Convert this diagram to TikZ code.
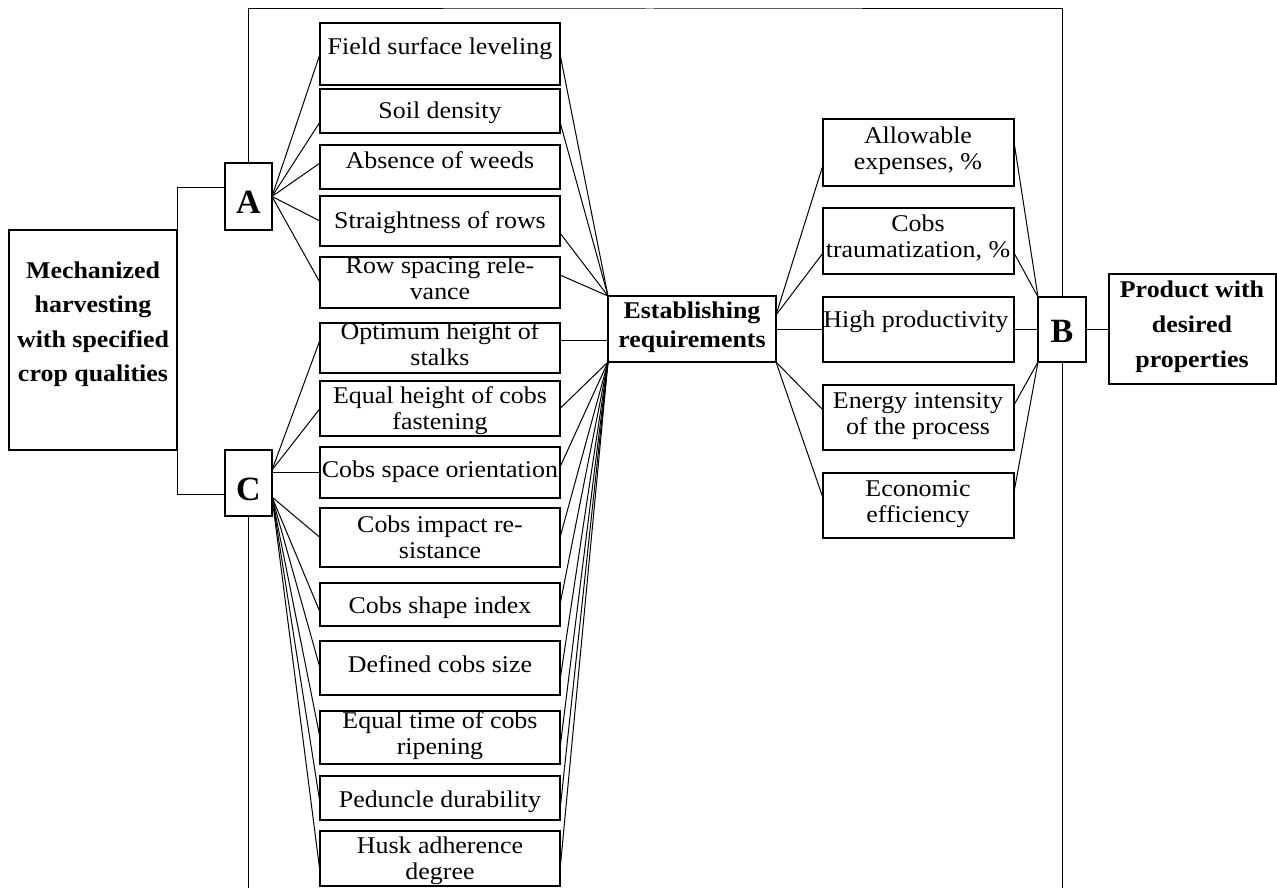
\documentclass[tikz,border=0pt]{standalone}
\usepackage{fontspec}
\setmainfont{Liberation Serif}[FakeStretch=1.08]
\newfontfamily\letterfont{Liberation Serif}
\begin{document}
\begin{tikzpicture}[x=1pt,y=-1pt,
  box/.style={draw, line width=1.1pt, inner sep=0pt, outer sep=0pt, anchor=north west},
  lbox/.style={box, minimum width=240pt},
  rbox/.style={box, minimum width=191pt},
  lbl/.style={inner sep=0pt, anchor=north, align=center, font=\fontsize{24}{26}\selectfont},
  blbl/.style={inner sep=0pt, anchor=north, align=center},
  letter/.style={inner sep=0pt, anchor=base, font=\letterfont\fontsize{34}{40}\selectfont\bfseries},
  ln/.style={line width=1pt}
]
\useasboundingbox (0,0) rectangle (1277,888);

% main boxes
\node[box, minimum width=168pt, minimum height=220pt] (mech) at (9,230) {};
\node[box, minimum width=47pt, minimum height=67pt] (A) at (225,163) {};
\node[box, minimum width=47pt, minimum height=66pt] (C) at (225,450) {};
\node[box, minimum width=168pt, minimum height=66pt] (est) at (608,296) {};
\node[box, minimum width=48pt, minimum height=65pt] (B) at (1038,297) {};
\node[box, minimum width=167pt, minimum height=110pt] (prod) at (1109,274) {};

% left column
\node[lbox, minimum height=62pt] (f1) at (320,23) {};
\node[lbox, minimum height=44pt] (f2) at (320,89) {};
\node[lbox, minimum height=44pt] (f3) at (320,145) {};
\node[lbox, minimum height=50pt] (f4) at (320,196) {};
\node[lbox, minimum height=51pt] (f5) at (320,257) {};
\node[lbox, minimum height=50pt] (g1) at (320,323) {};
\node[lbox, minimum height=55pt] (g2) at (320,381) {};
\node[lbox, minimum height=51pt] (g3) at (320,447) {};
\node[lbox, minimum height=59pt] (g4) at (320,508) {};
\node[lbox, minimum height=43pt] (g5) at (320,583) {};
\node[lbox, minimum height=54pt] (g6) at (320,641) {};
\node[lbox, minimum height=53pt] (g7) at (320,711) {};
\node[lbox, minimum height=44pt] (g8) at (320,776) {};
\node[lbox, minimum height=55pt] (g9) at (320,831) {};

% right column
\node[rbox, minimum height=67pt] (r1) at (823,119) {};
\node[rbox, minimum height=66pt] (r2) at (823,208) {};
\node[rbox, minimum height=65pt] (r3) at (823,297) {};
\node[rbox, minimum height=65pt] (r4) at (823,385) {};
\node[rbox, minimum height=65pt] (r5) at (823,473) {};

% texts
\node[blbl, font=\fontsize{24}{34.5}\selectfont\bfseries] (tmech) at (93,253.85)
  {\strut Mechanized\\harvesting\\with specified\\crop qualities};
\node[blbl, font=\fontsize{24}{29}\selectfont\bfseries] (test) at (692,297.7)
  {\strut Establishing\\requirements};
\node[blbl, font=\fontsize{24}{35}\selectfont\bfseries] (tprod) at (1192,272.5)
  {\strut Product with\\desired\\properties};
\node[letter] (tA) at (248.5,213) {A};
\node[letter] (tC) at (248.5,500) {C};
\node[letter] (tB) at (1062,342) {B};

\node[lbl] (tf1) at (440,35.8) {\strut Field surface leveling};
\node[lbl] (tf2) at (440,99.8) {\strut Soil density};
\node[lbl] (tf3) at (440,149.8) {\strut Absence of weeds};
\node[lbl] (tf4) at (440,209.8) {\strut Straightness of rows};
\node[lbl] (tf5) at (440,254.8) {\strut Row spacing rele-\\vance};
\node[lbl] (tg1) at (440,320.8) {\strut Optimum height of\\stalks};
\node[lbl] (tg2) at (440,384.8) {\strut Equal height of cobs\\fastening};
\node[lbl] (tg3) at (440,458.8) {\strut Cobs space orientation};
\node[lbl] (tg4) at (440,513.8) {\strut Cobs impact re-\\sistance};
\node[lbl] (tg5) at (440,594.8) {\strut Cobs shape index};
\node[lbl] (tg6) at (440,653.8) {\strut Defined cobs size};
\node[lbl] (tg7) at (440,709.8) {\strut Equal time of cobs\\ripening};
\node[lbl] (tg8) at (440,788.8) {\strut Peduncle durability};
\node[lbl] (tg9) at (440,834.8) {\strut Husk adherence\\degree};

\node[lbl] (tr1) at (918,124.8) {\strut Allowable\\expenses, \%};
\node[lbl] (tr2) at (918,212.8) {\strut Cobs\\traumatization, \%};
\node[lbl] (tr3) at (916,308.8) {\strut High productivity};
\node[lbl] (tr4) at (918,389.8) {\strut Energy intensity\\of the process};
\node[lbl] (tr5) at (918,477.8) {\strut Economic\\efficiency};

% frame
\coordinate (ftop) at (650,9);
\coordinate (fbot) at (650,890);
\draw[ln] (A.north) |- (ftop) -| (B.north);
\draw[ln] (C.south) -- (C.south |- fbot);
\draw[ln] (B.south) -- (B.south |- fbot);

% bracket from mech to A and C
\draw[ln] ([yshift=9.5pt]A.west) -| (mech.north east);
\draw[ln] ([yshift=-11pt]C.west) -| (mech.south east);

% A fan
\draw[ln] (A.east) -- (f1.west);
\draw[ln] (A.east) -- ([yshift=-11pt]f2.west);
\draw[ln] (A.east) -- ([yshift=4pt]f3.west);
\draw[ln] (A.east) -- (f4.west);
\draw[ln] (A.east) -- (f5.west);

% f to est
\draw[ln] (f1.east) -- (est.north west);
\draw[ln] ([yshift=-11pt]f2.east) -- (est.north west);
\draw[ln] ([yshift=-12pt]f4.east) -- (est.north west);
\draw[ln] ([yshift=7.5pt]f5.east) -- (est.north west);

% C fan
\draw[ln] ([yshift=13pt]C.east) -- ([yshift=8pt]g1.west);
\draw[ln] ([yshift=13pt]C.east) -- (g2.west);
\draw[ln] (g3.west -| C.east) -- (g3.west);
\draw[ln] ([yshift=-14pt]C.east) -- (g4.west);
\draw[ln] ([yshift=-14pt]C.east) -- ([yshift=-7.5pt]g5.west);
\draw[ln] ([yshift=-14pt]C.east) -- (g6.west);
\draw[ln] ([yshift=-14pt]C.east) -- (g7.west);
\draw[ln] ([yshift=-14pt]C.east) -- ([yshift=-5pt]g8.west);
\draw[ln] ([yshift=-14pt]C.east) -- ([yshift=-13.5pt]g9.west);

% g to est
\draw[ln] ([yshift=8pt]g1.east) -- ([yshift=8pt]g1.east -| est.west);
\draw[ln] (g2.east) -- (est.south west);
\draw[ln] ([yshift=5.5pt]g3.east) -- (est.south west);
\draw[ln] (g4.east) -- (est.south west);
\draw[ln] (g5.east) -- (est.south west);
\draw[ln] ([yshift=-12pt]g6.east) -- (est.south west);
\draw[ln] ([yshift=-10.5pt]g7.east) -- (est.south west);
\draw[ln] ([yshift=-12pt]g8.east) -- (est.south west);
\draw[ln] ([yshift=-11.5pt]g9.east) -- (est.south west);

% est to right column
\draw[ln] ([yshift=14pt]est.east) -- ([yshift=-12.5pt]r1.west);
\draw[ln] ([yshift=14pt]est.east) -- ([yshift=-12pt]r2.west);
\draw[ln] (est.east) -- (est.east -| r3.west);
\draw[ln] (est.south east) -- ([yshift=7.5pt]r4.west);
\draw[ln] (est.south east) -- ([yshift=7.5pt]r5.west);

% right column to B
\draw[ln] ([yshift=10.5pt]r1.east) -- (B.north west);
\draw[ln] ([yshift=-12pt]r2.east) -- (B.north west);
\draw[ln] (r3.east) -- (r3.east -| B.west);
\draw[ln] ([yshift=12.5pt]r4.east) -- (B.south west);
\draw[ln] ([yshift=13.5pt]r5.east) -- (B.south west);

% B to product
\draw[ln] (B.east) -- (B.east -| prod.west);
\end{tikzpicture}
\end{document}
